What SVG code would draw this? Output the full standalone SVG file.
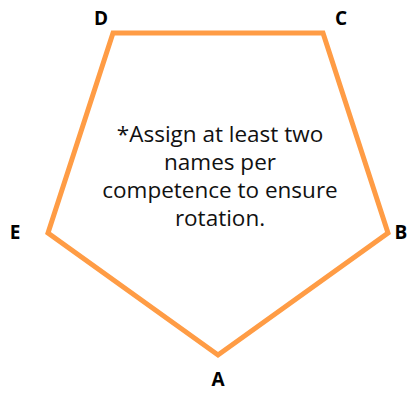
<svg xmlns="http://www.w3.org/2000/svg" width="411" height="393" viewBox="0 0 411 393">
<style>
.lbl{font-family:"Open Sans","Liberation Sans",sans-serif;font-weight:bold;font-size:19px;fill:#000;text-anchor:middle}
.note{font-family:"Open Sans","Liberation Sans",sans-serif;font-size:22.5px;fill:#111;text-anchor:middle}
</style>
<rect width="411" height="393" fill="#fff"/>
<g id="pentagon">
<polygon points="113,33 323,33 388,233 218,355 48,233" fill="none" stroke="#FF9C45" stroke-width="5" stroke-linejoin="miter"/>
</g>
<g id="labels">
<text class="lbl" x="101" y="25">D</text>
<text class="lbl" x="341" y="25">C</text>
<text class="lbl" x="401" y="239">B</text>
<text class="lbl" x="15" y="239">E</text>
<text class="lbl" x="218" y="386">A</text>
</g>
<g id="note">
<text class="note" x="220" y="142">*Assign at least two</text>
<text class="note" x="220" y="170">names per</text>
<text class="note" x="220" y="198">competence to ensure</text>
<text class="note" x="220" y="226">rotation.</text>
</g>
</svg>
